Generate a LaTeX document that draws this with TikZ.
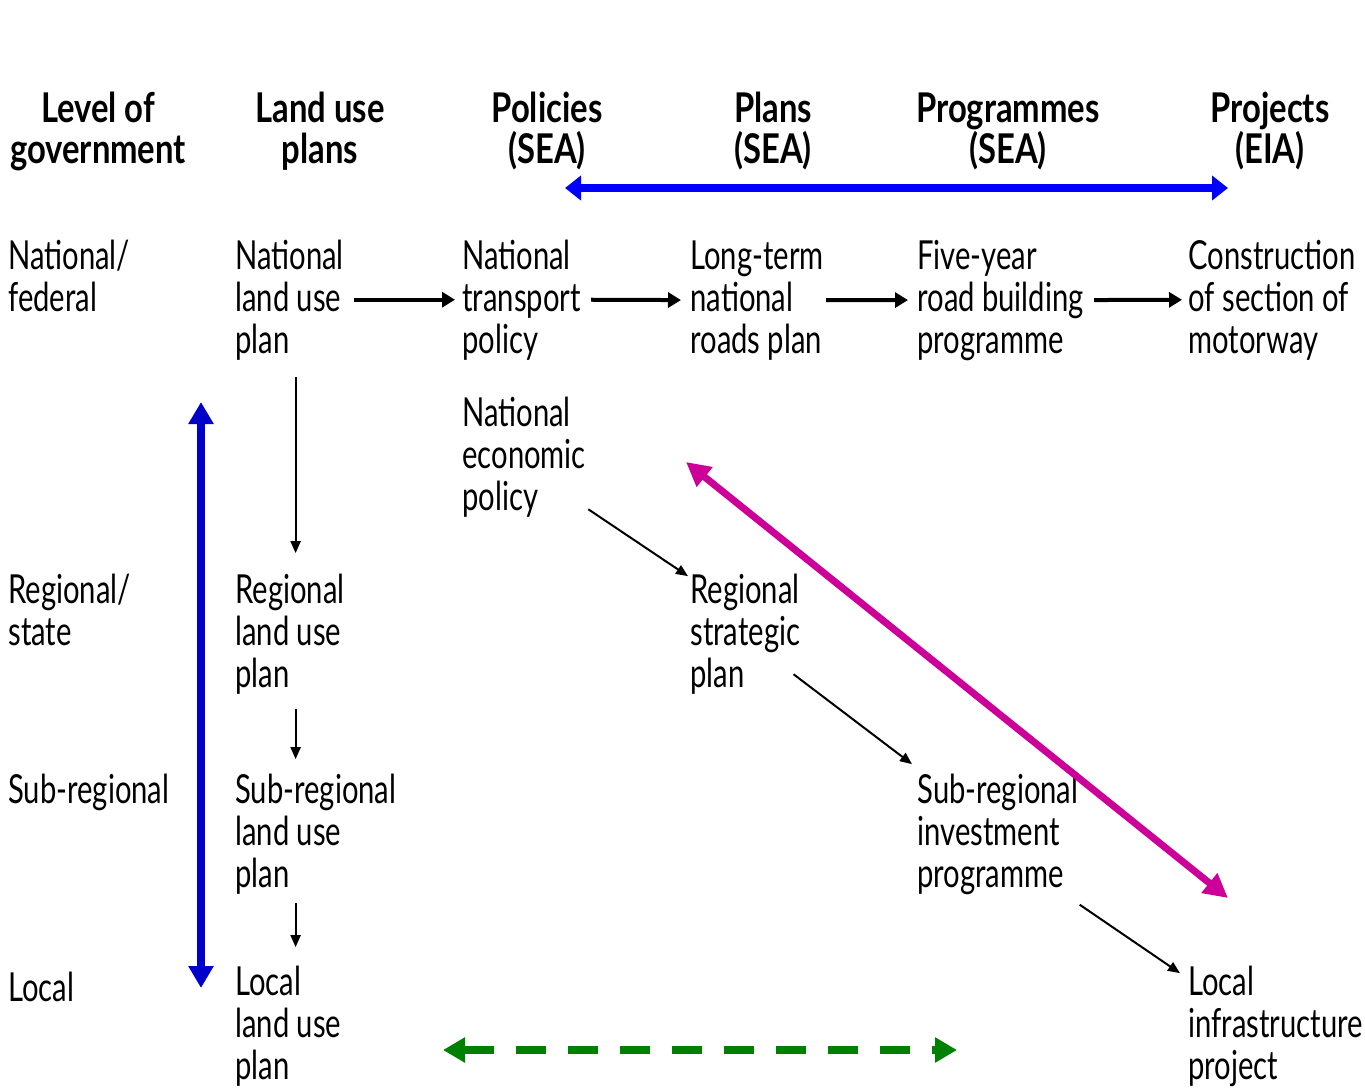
\documentclass[tikz,border=0pt]{standalone}
\usepackage{fontspec}
\setmainfont{Lato}[FakeStretch=0.73, BoldFeatures={FakeStretch=0.8}]
\usetikzlibrary{arrows.meta}

\definecolor{blueh}{RGB}{0,0,255}
\definecolor{bluev}{RGB}{0,0,204}
\definecolor{magarr}{RGB}{204,0,153}
\definecolor{greenarr}{RGB}{0,128,0}

\begin{document}
\begin{tikzpicture}[%
      x=0.5pt, y=-0.5pt,
      txt/.style={anchor=base west, align=left, inner sep=0pt,
        font=\fontsize{20}{21}\selectfont},
      head/.style={anchor=base, align=center, inner sep=0pt,
        font=\fontsize{20.5}{20.5}\selectfont\bfseries},
      flow/.style={line width=2pt, -{Triangle[length=6.5pt,width=7.5pt]}},
      thin/.style={line width=1pt, -{Triangle[length=6pt,width=5pt]}},
      ]
      \useasboundingbox (0,0) rectangle (1365,1088);

      % column headings (placed at baseline of last line)
      \node[head] (hdlevel) at (98,163) {Level of\\government};
      \node[head] (hdland) at (320,163) {Land use\\plans};
      \node[head] (hdpol) at (547,163) {Policies\\(SEA)};
      \node[head] (hdplan) at (773,163) {Plans\\(SEA)};
      \node[head] (hdprog) at (1008,163) {Programmes\\(SEA)};
      \node[head] (hdproj) at (1270,163) {Projects\\(EIA)};

      % level of government
      \node[txt] (lnat) at (8,311) {National/\\federal};
      \node[txt] (lreg) at (8,645) {Regional/\\state};
      \node[txt] (lsub) at (8,803) {Sub-regional};
      \node[txt] (lloc) at (8,1001) {Local};

      % land use plans
      \node[txt] (unat) at (235,353) {National\\land use\\plan};
      \node[txt] (ureg) at (235,687) {Regional\\land use\\plan};
      \node[txt] (usub) at (235,887) {Sub-regional\\land use\\plan};
      \node[txt] (uloc) at (235,1079) {Local\\land use\\plan};

      % policies, plans, programmes, projects
      \node[txt] (ptrans) at (462,353) {National\\transport\\policy};
      \node[txt] (pecon) at (462,510) {National\\economic\\policy};
      \node[txt] (plong) at (690,353) {Long-term\\national\\roads plan};
      \node[txt] (pstrat) at (690,687) {Regional\\strategic\\plan};
      \node[txt] (prbuild) at (917,353) {Five-year\\road building\\programme};
      \node[txt] (prinv) at (917,887) {Sub-regional\\investment\\programme};
      \node[txt] (pjmot) at (1188,353) {Construction\\of section of\\motorway};
      \node[txt] (pjinf) at (1188,1079) {Local\\infrastructure\\project};

      % tiering
      \draw[flow, shorten <=5pt, shorten >=3.5pt] (unat.east) -- (ptrans.west);
      \draw[flow, shorten <=5pt, shorten >=4.5pt] (ptrans.east) -- (plong.west);
      \draw[flow, shorten <=1pt, shorten >=4.5pt] (plong.east) -- (prbuild.west);
      \draw[flow, shorten <=5pt, shorten >=3pt] (prbuild.east) -- (pjmot.west);

      \draw[thin, shorten <=8.5pt, shorten >=10pt] ([xshift=3]unat.south) -- ([xshift=3]unat.south |- ureg.north);
      \draw[thin, shorten <=7.5pt, shorten >=7pt] ([xshift=3]unat.south |- ureg.south) -- ([xshift=3]unat.south |- usub.north);
      \draw[thin, shorten <=4.5pt, shorten >=9pt] ([xshift=3]unat.south |- usub.south) -- ([xshift=3]unat.south |- uloc.north);

      \draw[thin] ([shift={(2,-8)}]pecon.south east) -- ([shift={(-2,3)}]pstrat.north west);
      \draw[thin] ([shift={(-7,-20)}]pstrat.south east) -- ([shift={(-5,-9)}]prinv.north west);
      \draw[thin] ([shift={(1,10)}]prinv.south east) -- ([shift={(-8,8)}]pjinf.north west);

      % ranges
      \coordinate (sealeft) at (565,188);
      \coordinate (earight) at (1228,188);
      \coordinate (govtop) at (201,402);
      \coordinate (govbot) at (201,988);
      \coordinate (magtop) at (686,462);
      \coordinate (magbot) at (1228,898);
      \coordinate (grleft) at (443,1050);
      \coordinate (grright) at (957,1050);

      \draw[color=blueh, line width=4pt, {Triangle[length=8pt,width=12pt]}-{Triangle[length=8pt,width=12pt]}] (sealeft) -- (earight);
      \draw[color=bluev, line width=4pt, {Triangle[length=11pt,width=12pt]}-{Triangle[length=11pt,width=12pt]}] (govtop) -- (govbot);
      \draw[color=magarr, line width=3.5pt, {Triangle[length=12pt,width=12pt]}-{Triangle[length=12pt,width=12pt]}] (magtop) -- (magbot);
      \draw[color=greenarr, line width=4pt, dash pattern=on 15pt off 11pt, {Triangle[length=11pt,width=12pt]}-{Triangle[length=11pt,width=12pt]}] (grleft) -- (grright);
\end{tikzpicture}
\end{document}
